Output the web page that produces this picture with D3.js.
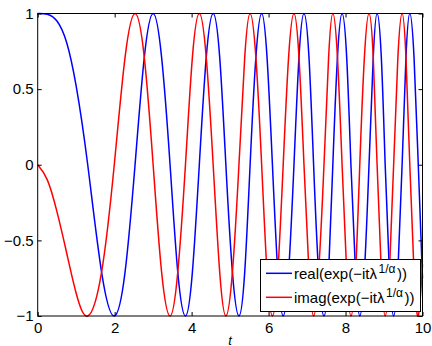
<!DOCTYPE html>
<html>
<head>
<meta charset="utf-8">
<script src="https://cdn.jsdelivr.net/npm/d3@7"></script>
<style>
  body { margin: 0; background: #fff; }
  svg { display: block; font-family: "Liberation Sans", Arial, sans-serif; }
  .axis text { font-size: 15px; fill: #000; }
  .axis line { stroke: #000; }
</style>
</head>
<body>
<div id="chart"></div>
<script>
// Sample times: extrema, zero crossings and the points
// half way between them (where the two curves sit at about +-0.71)
var tValues = [0, 0.25, 0.5, 0.75, 1.0,
    1.30, 1.66, 1.99, 2.27, 2.53, 2.77, 3.00, 3.22,
    3.44, 3.64, 3.84, 4.02, 4.20, 4.38, 4.56, 4.73,
    4.89, 5.06, 5.23, 5.38, 5.52, 5.67, 5.82, 5.96,
    6.10, 6.24, 6.38, 6.52, 6.66, 6.79, 6.92, 7.05,
    7.17, 7.30, 7.44, 7.56, 7.67, 7.79, 7.91, 8.03,
    8.14, 8.26, 8.37, 8.49, 8.61, 8.72, 8.82, 8.93,
    9.03, 9.14, 9.25, 9.36, 9.47, 9.57, 9.67, 9.78,
    9.89, 10];
// real part (blue)
var realValues = [1, 0.995, 0.95, 0.81, 0.52,
    0, -0.71, -1, -0.71, 0, 0.71, 1, 0.71,
    0, -0.71, -1, -0.71, 0, 0.71, 1, 0.71,
    0, -0.71, -1, -0.71, 0, 0.71, 1, 0.71,
    0, -0.71, -1, -0.71, 0, 0.71, 1, 0.71,
    0, -0.71, -1, -0.71, 0, 0.71, 1, 0.71,
    0, -0.71, -1, -0.71, 0, 0.71, 1, 0.71,
    0, -0.71, -1, -0.71, 0, 0.71, 1, 0.71,
    0, -0.75];
// imaginary part (red)
var imagValues = [0, -0.10, -0.31, -0.58, -0.85,
    -1, -0.71, 0, 0.71, 1, 0.71, 0, -0.71,
    -1, -0.71, 0, 0.71, 1, 0.71, 0, -0.71,
    -1, -0.71, 0, 0.71, 1, 0.71, 0, -0.71,
    -1, -0.71, 0, 0.71, 1, 0.71, 0, -0.71,
    -1, -0.71, 0, 0.71, 1, 0.71, 0, -0.71,
    -1, -0.71, 0, 0.71, 1, 0.71, 0, -0.71,
    -1, -0.71, 0, 0.71, 1, 0.71, 0, -0.71,
    -1, -0.66];
var xTicks = [0, 2, 4, 6, 8, 10];
var yTicks = [-1, -0.5, 0, 0.5, 1];

var width = 432, height = 346;
var plotLeft = 37.7, plotRight = 422.5, plotTop = 13.5, plotBottom = 316;

var svg = d3.select("#chart").append("svg")
    .attr("width", width)
    .attr("height", height);

var x = d3.scaleLinear().domain([0, 10]).range([plotLeft, plotRight]);
var y = d3.scaleLinear().domain([-1, 1]).range([plotBottom, plotTop]);

var line = d3.line()
    .x(function(d) { return x(d[0]); })
    .y(function(d) { return y(d[1]); })
    .curve(d3.curveNatural);

var realData = tValues.map(function(t, i) { return [t, realValues[i]]; });
var imagData = tValues.map(function(t, i) { return [t, imagValues[i]]; });

svg.append("path")
    .datum(realData)
    .attr("fill", "none")
    .attr("stroke", "#0000ff")
    .attr("stroke-width", 1.5)
    .attr("d", line);

svg.append("path")
    .datum(imagData)
    .attr("fill", "none")
    .attr("stroke", "#ff0000")
    .attr("stroke-width", 1.5)
    .attr("d", line);

var fmt = d3.format("~g");

// axes with inward ticks (box style)
svg.append("g")
    .attr("class", "axis")
    .attr("transform", "translate(0," + plotBottom + ")")
    .call(d3.axisBottom(x).tickValues(xTicks).tickFormat(fmt).tickSizeInner(-4).tickSizeOuter(0).tickPadding(6))
    .call(function(g) { g.select(".domain").remove(); });

svg.append("g")
    .attr("class", "axis")
    .attr("transform", "translate(0," + plotTop + ")")
    .call(d3.axisTop(x).tickValues(xTicks).tickFormat("").tickSizeInner(-4).tickSizeOuter(0))
    .call(function(g) { g.select(".domain").remove(); });

svg.append("g")
    .attr("class", "axis")
    .attr("transform", "translate(" + plotLeft + ",0)")
    .call(d3.axisLeft(y).tickValues(yTicks).tickFormat(fmt).tickSizeInner(-4).tickSizeOuter(0).tickPadding(4))
    .call(function(g) { g.select(".domain").remove(); });

svg.append("g")
    .attr("class", "axis")
    .attr("transform", "translate(" + plotRight + ",0)")
    .call(d3.axisRight(y).tickValues(yTicks).tickFormat("").tickSizeInner(-4).tickSizeOuter(0))
    .call(function(g) { g.select(".domain").remove(); });

svg.append("rect")
    .attr("x", plotLeft).attr("y", plotTop)
    .attr("width", plotRight - plotLeft).attr("height", plotBottom - plotTop)
    .attr("fill", "none")
    .attr("stroke", "#000")
    .attr("stroke-width", 1);

// x label
svg.append("text")
    .attr("x", (plotLeft + plotRight) / 2)
    .attr("y", 345)
    .attr("text-anchor", "middle")
    .style("font-size", "13px")
    .style("font-style", "italic")
    .text("t");

// legend
var legend = svg.append("g");
legend.append("rect")
    .attr("x", 260.5).attr("y", 259.5)
    .attr("width", 160).attr("height", 52)
    .attr("fill", "#fff")
    .attr("stroke", "#000");

var entries = [
    {name: "real", color: "#0000ff", y: 273.3},
    {name: "imag", color: "#ff0000", y: 297.3}
];
entries.forEach(function(e) {
    legend.append("line")
        .attr("x1", 266).attr("x2", 292)
        .attr("y1", e.y).attr("y2", e.y)
        .attr("stroke", e.color)
        .attr("stroke-width", 1.5);
    var txt = legend.append("text")
        .attr("x", 294)
        .attr("y", e.y + 5.5)
        .style("font-size", "15px");
    txt.append("tspan").text(e.name + "(exp(\u2212it\u03bb");
    txt.append("tspan").attr("dy", -6).attr("dx", 1.5).style("font-size", "12px").text("1/\u03b1");
    txt.append("tspan").attr("dy", 6).attr("dx", 1.5).text("))");
});
</script>
</body>
</html>
